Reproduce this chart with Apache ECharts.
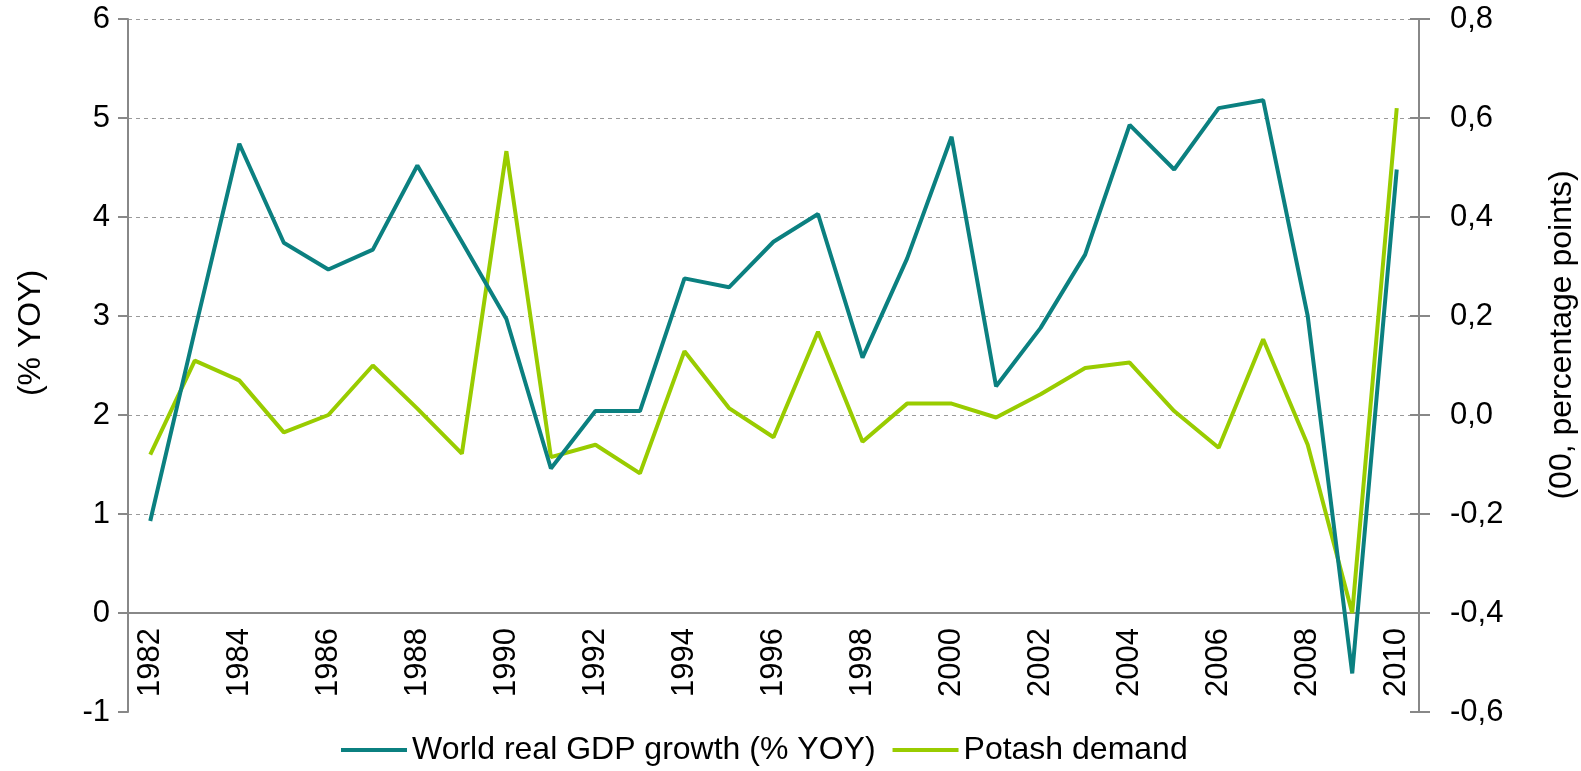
<!DOCTYPE html>
<html>
<head>
<meta charset="utf-8">
<script src="https://cdn.jsdelivr.net/npm/echarts@6/dist/echarts.min.js"></script>
<style>
    html, body { margin: 0; padding: 0; background: #fff; }
    #chart { width: 1581px; height: 771px; }
</style>
</head>
<body>
<div id="chart"></div>
<script>
// 年份
var years = ['1982', '1983', '1984', '1985', '1986', '1987', '1988', '1989', '1990', '1991',
    '1992', '1993', '1994', '1995', '1996', '1997', '1998', '1999', '2000', '2001',
    '2002', '2003', '2004', '2005', '2006', '2007', '2008', '2009', '2010'];
// World real GDP growth (% YOY) - left axis
var gdpGrowth = [0.93, 2.85, 4.74, 3.74, 3.47, 3.67, 4.52, 3.75, 2.97, 1.46,
    2.04, 2.04, 3.38, 3.29, 3.75, 4.03, 2.58, 3.58, 4.81, 2.29,
    2.88, 3.62, 4.93, 4.48, 5.10, 5.18, 3.00, -0.61, 4.48];
// Potash demand - right axis
var potashDemand = [-0.08, 0.11, 0.07, -0.035, 0.0, 0.10, 0.013, -0.078, 0.533, -0.085,
    -0.06, -0.118, 0.129, 0.014, -0.045, 0.168, -0.054, 0.023, 0.023, -0.005,
    0.042, 0.095, 0.106, 0.008, -0.066, 0.153, -0.06, -0.40, 0.62];

var FONT = "'Liberation Sans', Arial, sans-serif";
var AXIS_GREY = '#888888';
var PLOT_H = 693;           // 771 - 19 - 59
var ZERO_SHIFT = PLOT_H / 7; // x 轴从 -1 移到 0

var mychart = echarts.init(document.getElementById('chart'));
var option = {
    animation: false,
    textStyle: { fontFamily: FONT },
    grid: { left: 128, right: 162, top: 19, bottom: 59, containLabel: false, outerBoundsMode: 'none' },
    legend: {
        left: 336,
        top: 729,
        icon: 'rect',
        itemWidth: 66,
        itemHeight: 4,
        itemGap: 17,
        textStyle: { fontSize: 32, color: '#000', fontFamily: FONT },
        data: ['World real GDP growth (% YOY)', 'Potash demand']
    },
    xAxis: {
        type: 'category',
        data: years,
        boundaryGap: true,
        position: 'bottom',
        offset: -ZERO_SHIFT,
        axisLine: { onZero: false, lineStyle: { color: AXIS_GREY, width: 2 } },
        axisTick: { interval: 0, length: 10, lineStyle: { color: AXIS_GREY, width: 2 } },
        axisLabel: { interval: 1, rotate: 90, margin: 15, fontSize: 31, color: '#000' },
        splitLine: { show: false }
    },
    yAxis: [{
        type: 'value',
        min: -1, max: 6, interval: 1,
        axisLine: { show: true, lineStyle: { color: AXIS_GREY, width: 2 } },
        axisTick: { show: true, length: 10, lineStyle: { color: AXIS_GREY, width: 2 } },
        axisLabel: { margin: 18, fontSize: 31, color: '#000' },
        splitLine: {
            show: true,
            lineStyle: {
                // 不画 -1 和 0 两条
                color: ['transparent', 'transparent', '#9a9a9a', '#9a9a9a', '#9a9a9a', '#9a9a9a', '#9a9a9a', '#9a9a9a'],
                type: [4, 4], width: 1
            }
        }
    }, {
        type: 'value',
        position: 'right',
        min: -0.6, max: 0.8, interval: 0.2,
        axisLine: { show: true, lineStyle: { color: AXIS_GREY, width: 2 } },
        axisTick: { show: true, length: 11, lineStyle: { color: AXIS_GREY, width: 2 } },
        axisLabel: {
            margin: 31, fontSize: 31, color: '#000',
            formatter: function (v) { return v.toFixed(1).replace('.', ','); }
        },
        splitLine: { show: false }
    }, {
        // 右轴向内的刻度
        type: 'value',
        position: 'right',
        min: -0.6, max: 0.8, interval: 0.2,
        axisLine: { show: false },
        axisTick: { show: true, inside: true, length: 9, lineStyle: { color: AXIS_GREY, width: 2 } },
        axisLabel: { show: false },
        splitLine: { show: false }
    }],
    graphic: [{
        type: 'text',
        x: 31, y: 333,
        rotation: Math.PI / 2,
        style: { text: '(% YOY)', font: '32px ' + FONT, fill: '#000', align: 'center', verticalAlign: 'middle' }
    }, {
        type: 'text',
        x: 1562, y: 335,
        rotation: Math.PI / 2,
        style: { text: '(00, percentage points)', font: '32px ' + FONT, fill: '#000', align: 'center', verticalAlign: 'middle' }
    }],
    series: [{
        name: 'World real GDP growth (% YOY)',
        type: 'line',
        yAxisIndex: 0,
        data: gdpGrowth,
        symbol: 'none',
        lineStyle: { color: '#0b8080', width: 4 },
        itemStyle: { color: '#0b8080' },
        z: 3
    }, {
        name: 'Potash demand',
        type: 'line',
        yAxisIndex: 1,
        data: potashDemand,
        symbol: 'none',
        lineStyle: { color: '#99cc00', width: 4 },
        itemStyle: { color: '#99cc00' },
        z: 2
    }]
};
mychart.setOption(option);
</script>
</body>
</html>
